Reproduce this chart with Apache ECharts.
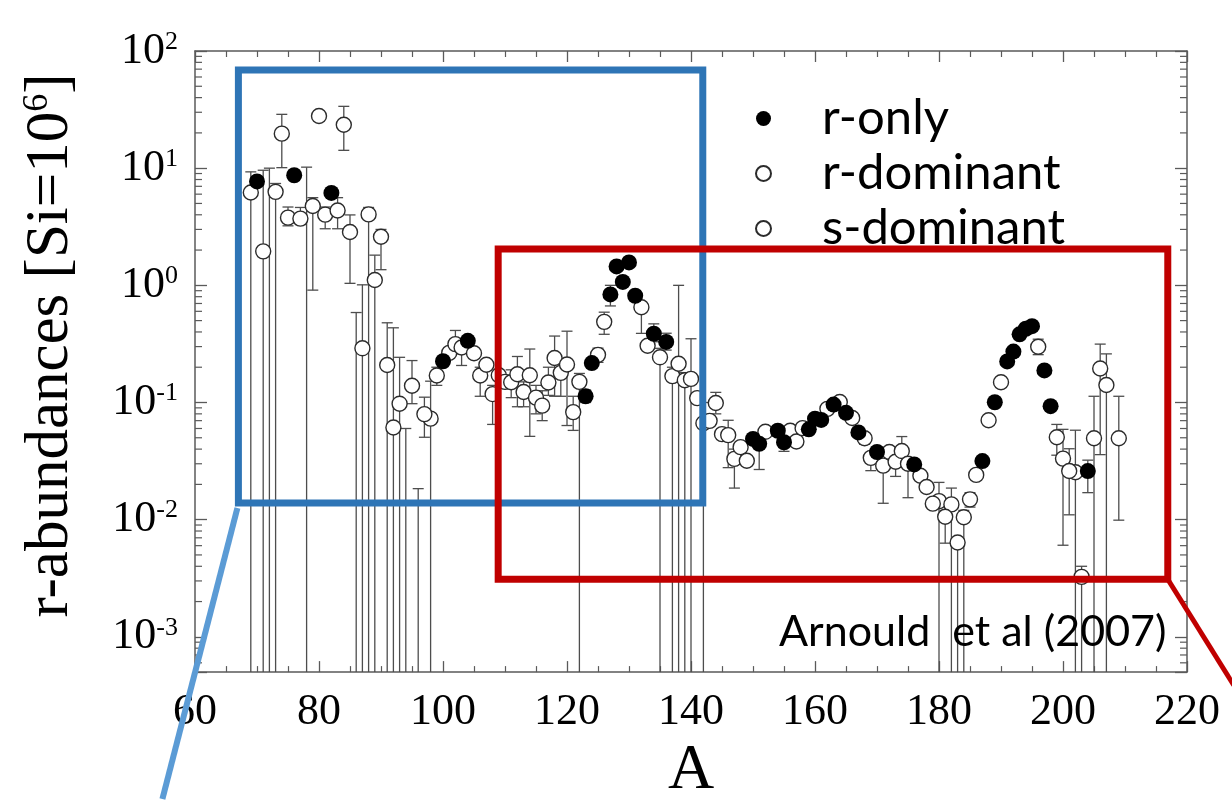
<!DOCTYPE html>
<html>
<head>
<meta charset="utf-8">
<title>r-abundances</title>
<script src="https://cdn.jsdelivr.net/npm/echarts@6/dist/echarts.min.js"></script>
<style>
  html, body { margin: 0; padding: 0; background: #fff; }
  #chart { width: 1232px; height: 808px; }
</style>
</head>
<body>
<div id="chart"></div>
<script>
// Solar-system r-process residual abundances versus mass number A

// r-only nuclides
const rOnlyA = [70, 76, 82, 100, 104, 123, 124, 127, 128, 129, 130, 131, 134, 136,
  150, 151, 154, 155, 159, 160, 161, 163, 165, 167, 170, 176, 187, 189, 191, 192,
  193, 194, 195, 197, 198, 204];
const rOnlyY = [7.7, 8.7, 6.15, 0.225, 0.336, 0.113, 0.217, 0.836, 1.45, 1.07, 1.57, 0.815, 0.386, 0.329,
  0.0489, 0.0444, 0.0574, 0.0458, 0.059, 0.0728, 0.071, 0.096, 0.0817, 0.0555, 0.0378, 0.0296, 0.0316, 0.1005, 0.224, 0.272,
  0.382, 0.426, 0.448, 0.188, 0.093, 0.026];

// r-dominant nuclides
const rDomA = [74, 75, 77, 79, 80, 81, 83, 84, 85, 90, 95, 97, 99, 101, 102, 103, 105, 106, 107, 108,
  109, 110, 111, 112, 113, 114, 115, 116, 117, 118, 119, 120, 121, 125, 126, 132, 133, 141, 143, 144,
  145, 146, 147, 148, 149, 152, 156, 157, 158, 162, 164, 166, 168, 169, 171, 172, 173, 174, 175, 177,
  178, 179, 181, 185, 186, 188, 190, 196, 199, 200, 201, 206, 209];
const rDomY = [19.7, 3.78, 3.71, 4.76, 27.9, 4.01, 4.35, 23.5, 2.85, 2.6, 0.139, 0.0796, 0.17, 0.265, 0.315, 0.295, 0.263, 0.17, 0.21, 0.118,
  0.171, 0.15, 0.149, 0.174, 0.123, 0.171, 0.110, 0.094, 0.148, 0.240, 0.179, 0.211, 0.0828, 0.255, 0.488, 0.65, 0.305, 0.109, 0.0697, 0.099,
  0.0537, 0.0527, 0.033, 0.0416, 0.0318, 0.0562, 0.0574, 0.0465, 0.0604, 0.0883, 0.101, 0.0738, 0.0495, 0.0337, 0.0289, 0.0378, 0.0312, 0.0385, 0.030, 0.0237,
  0.019, 0.0137, 0.0106, 0.0149, 0.0241, 0.0705, 0.149, 0.299, 0.0505, 0.0332, 0.026, 0.195, 0.0495];

// s-dominant nuclides
const sDomA = [69, 71, 73, 87, 88, 89, 91, 92, 93, 98, 122, 135, 137, 138, 139, 140, 142,
  180, 182, 183, 184, 202, 203, 205, 207];
const sDomY = [6.2, 1.95, 6.28, 0.29, 4.03, 1.11, 0.209, 0.0612, 0.0977, 0.0728, 0.150, 0.243, 0.168, 0.214, 0.155, 0.159, 0.0665,
  0.0144, 0.0135, 0.00638, 0.0105, 0.0254, 0.00325, 0.0495, 0.141];

// Uncertainty ranges (lower, upper); 1e-4 lies below the plotted range
const errA = [69, 71, 72, 73, 74, 75, 77, 78, 79, 80, 81, 83, 84, 85, 86, 87, 88, 89, 90, 91,
  92, 93, 94, 95, 96, 97, 98, 99, 102, 103, 106, 108, 111, 112, 113, 114, 115, 116, 117, 118,
  119, 120, 121, 122, 123, 125, 126, 127, 132, 134, 135, 136, 137, 138, 139, 140, 142, 144, 146, 147,
  151, 155, 168, 169, 171, 173, 174, 175, 180, 181, 182, 183, 184, 185, 196, 199, 200, 201, 202, 203,
  204, 205, 206, 207, 209];
const errLo = [1e-4, 1e-4, 1e-4, 1e-4, 10.1, 3.22, 3.3, 1e-4, 0.91, 26, 3.04, 3.04, 14.2, 1.04, 1e-4, 1e-4, 1e-4, 1e-4, 1.36, 1e-4,
  1e-4, 1e-4, 1e-4, 0.0977, 1e-4, 0.0505, 1e-4, 0.14, 0.26, 0.207, 0.113, 0.065, 0.11, 0.092, 0.092, 0.0514, 0.08, 0.07, 0.115, 0.113,
  0.113, 0.0636, 0.0578, 1e-4, 0.1, 0.22, 0.382, 0.667, 0.389, 0.33, 1e-4, 0.28, 1e-4, 1e-4, 1e-4, 1e-4, 1e-4, 0.08, 0.0278, 0.0186,
  0.0268, 0.0383, 0.044, 0.0262, 0.0138, 0.0234, 0.03, 0.0154, 1e-4, 0.0063, 1e-4, 1e-4, 1e-4, 0.0128, 0.256, 0.0355, 0.00605, 0.011, 1e-4, 1e-4,
  0.017, 1e-4, 0.0359, 1e-4, 0.0099];
const errHi = [9.3, 9.6, 10.0, 7.4, 28.8, 4.66, 4.62, 10.2, 5.6, 29.5, 4.66, 5.6, 33.7, 3.99, 0.586, 1.01, 4.62, 1.81, 3.0, 0.479,
  0.434, 0.243, 0.06, 0.228, 0.0184, 0.111, 0.152, 0.2, 0.412, 0.34, 0.2, 0.14, 0.19, 0.247, 0.15, 0.286, 0.14, 0.126, 0.2, 0.369,
  0.22, 0.406, 0.113, 0.177, 0.128, 0.291, 0.59, 1.0, 0.72, 0.469, 0.29, 0.39, 0.2, 1.0, 0.18, 0.35, 0.1, 0.122, 0.0705, 0.04,
  0.05, 0.05, 0.055, 0.036, 0.032, 0.034, 0.0512, 0.033, 0.0208, 0.012, 0.0186, 0.007, 0.012, 0.017, 0.347, 0.065, 0.059, 0.0403, 0.058, 0.004,
  0.0322, 0.113, 0.315, 0.26, 0.113];

// Axis extents and tick labels
const xTicks = [60, 80, 100, 120, 140, 160, 180, 200, 220];
const xMin = 60, xMax = 220, xStep = 20;
const yMin = 5e-4, yMax = 100;

// Highlighted regions (mass number range, abundance range)
const blueBox = { a0: 67.0, a1: 141.9, lo: 0.0139, hi: 68.7 };
const redBox = { a0: 108.9, a1: 216.9, lo: 0.0031, hi: 2.04 };

const SERIF = "'Liberation Serif', 'Times New Roman', serif";
const SANS = "Lato, 'Noto Sans', sans-serif";
const AXIS_COLOR = '#5a5a5a';

const zip = (a, b) => a.map((v, i) => [v, b[i]]);
const errRows = errA.map((a, i) => [a, errLo[i], errHi[i]]);

// log-spaced minor tick values (2..9 in every decade of the axis)
const minorValues = [];
for (let d = -4; d <= 2; d++) {
  for (let k = 2; k <= 9; k++) {
    const v = k * Math.pow(10, d);
    if (v > yMin && v < yMax) minorValues.push([xMin, v]);
  }
}

const chart = echarts.init(document.getElementById('chart'), null, { renderer: 'canvas' });

const openStyle = { color: '#fff', borderColor: '#2b2b2b', borderWidth: 1.4, opacity: 1 };

const yLabel = {
  margin: 17,
  formatter: function (v) {
    const l = Math.log10(v);
    const e = Math.round(l);
    if (Math.abs(l - e) > 1e-6) return '';
    return '{b|10}{s|' + e + '}';
  },
  rich: {
    b: { fontSize: 44, fontFamily: SERIF, color: '#000', lineHeight: 44 },
    s: { fontSize: 26, fontFamily: SERIF, color: '#000', verticalAlign: 'top', lineHeight: 26 }
  }
};

chart.setOption({
  animation: false,
  backgroundColor: '#fff',
  grid: { left: 195, right: 45, top: 51, bottom: 122, containLabel: false },
  legend: {
    data: ['r-only', 'r-dominant', 's-dominant'],
    orient: 'vertical',
    left: 755,
    top: 94,
    padding: 0,
    itemWidth: 15,
    itemHeight: 15,
    itemGap: 6,
    icon: 'circle',
    formatter: function (n) { return '{t|' + n + '}'; },
    textStyle: {
      lineHeight: 44,
      rich: { t: { fontSize: 49, fontFamily: SANS, color: '#000', lineHeight: 44, padding: [0, 0, 0, 46] } }
    },
    selectedMode: false
  },
  xAxis: [{
    type: 'value', min: xMin, max: xMax, interval: xStep,
    name: 'A', nameLocation: 'middle', nameGap: 58,
    nameTextStyle: { fontSize: 64, fontFamily: SERIF, color: '#000' },
    axisLine: { show: true, lineStyle: { color: AXIS_COLOR, width: 1.5 } },
    axisTick: { show: true, inside: true, length: 11, lineStyle: { color: AXIS_COLOR, width: 1.3 } },
    minorTick: { show: true, splitNumber: 4, length: 6, lineStyle: { color: AXIS_COLOR, width: 1.2 } },
    splitLine: { show: false },
    axisLabel: {
      margin: 18, fontSize: 44, fontFamily: SERIF, color: '#000',
      formatter: function (v) { return xTicks.indexOf(v) >= 0 ? String(v) : ''; }
    }
  }, {
    type: 'value', min: xMin, max: xMax, interval: xStep, position: 'top',
    axisLine: { show: true, lineStyle: { color: AXIS_COLOR, width: 1.5 } },
    axisTick: { show: true, inside: true, length: 11, lineStyle: { color: AXIS_COLOR, width: 1.3 } },
    minorTick: { show: true, splitNumber: 4, length: 6, lineStyle: { color: AXIS_COLOR, width: 1.2 } },
    splitLine: { show: false },
    axisLabel: { show: false }
  }],
  yAxis: [{
    type: 'log', logBase: 10, min: yMin, max: yMax,
    name: 'r-abundances [Si=10{sup|6}]',
    nameLocation: 'middle', nameRotate: 90, nameGap: 114,
    nameTextStyle: {
      fontSize: 61, fontFamily: SERIF, color: '#000', padding: [0, 0, 0, 32],
      rich: { sup: { fontSize: 36, fontFamily: SERIF, color: '#000', verticalAlign: 'top' } }
    },
    axisLine: { show: true, lineStyle: { color: AXIS_COLOR, width: 1.5 } },
    axisTick: { show: true, inside: true, length: 12, lineStyle: { color: AXIS_COLOR, width: 1.3 } },
    splitLine: { show: false },
    axisLabel: yLabel
  }, {
    type: 'log', logBase: 10, min: yMin, max: yMax, position: 'right',
    axisLine: { show: true, lineStyle: { color: AXIS_COLOR, width: 1.5 } },
    axisTick: { show: true, inside: true, length: 12, lineStyle: { color: AXIS_COLOR, width: 1.3 } },
    splitLine: { show: false },
    axisLabel: { show: false }
  }],
  series: [
    {
      // minor ticks of the logarithmic axes, on the left and right frame edges
      type: 'custom', name: 'minor', silent: true, z: 1,
      data: minorValues,
      renderItem: function (params, api) {
        const cs = params.coordSys;
        const p = api.coord([api.value(0), api.value(1)]);
        const st = { stroke: AXIS_COLOR, lineWidth: 1.2 };
        return {
          type: 'group',
          children: [
            { type: 'line', shape: { x1: cs.x, y1: p[1], x2: cs.x + 7, y2: p[1] }, style: st },
            { type: 'line', shape: { x1: cs.x + cs.width - 7, y1: p[1], x2: cs.x + cs.width, y2: p[1] }, style: st }
          ]
        };
      }
    },
    {
      // uncertainty bars with end caps, clipped to the plotting area
      type: 'custom', name: 'errors', silent: true, z: 2,
      data: errRows,
      renderItem: function (params, api) {
        const cs = params.coordSys;
        const a = api.value(0);
        const top = api.coord([a, api.value(2)]);
        const bot = api.coord([a, api.value(1)]);
        const x = top[0];
        const yBottom = cs.y + cs.height;
        const y1 = Math.max(top[1], cs.y);
        const y2 = Math.min(bot[1], yBottom);
        const st = { stroke: '#4d4d4d', lineWidth: 1.3 };
        const cap = 5.5;
        const ch = [{ type: 'line', shape: { x1: x, y1: y1, x2: x, y2: y2 }, style: st }];
        if (top[1] >= cs.y) ch.push({ type: 'line', shape: { x1: x - cap, y1: top[1], x2: x + cap, y2: top[1] }, style: st });
        if (bot[1] <= yBottom) ch.push({ type: 'line', shape: { x1: x - cap, y1: bot[1], x2: x + cap, y2: bot[1] }, style: st });
        return { type: 'group', children: ch };
      }
    },
    {
      name: 's-dominant', type: 'scatter', z: 3, symbol: 'circle', symbolSize: 15,
      itemStyle: openStyle, data: zip(sDomA, sDomY)
    },
    {
      name: 'r-dominant', type: 'scatter', z: 3, symbol: 'circle', symbolSize: 15,
      itemStyle: openStyle, data: zip(rDomA, rDomY)
    },
    {
      name: 'r-only', type: 'scatter', z: 4, symbol: 'circle', symbolSize: 16,
      itemStyle: { color: '#000', opacity: 1 }, data: zip(rOnlyA, rOnlyY)
    }
  ]
});

// Region outlines, connector lines and citation, placed through the axis scales
function px(a, v) { return chart.convertToPixel({ gridIndex: 0 }, [a, v]); }
const b0 = px(blueBox.a0, blueBox.hi), b1 = px(blueBox.a1, blueBox.lo);
const r0 = px(redBox.a0, redBox.hi), r1 = px(redBox.a1, redBox.lo);

chart.setOption({
  graphic: [
    {
      type: 'rect', z: 100, silent: true,
      shape: { x: b0[0], y: b0[1], width: b1[0] - b0[0], height: b1[1] - b0[1] },
      style: { fill: null, stroke: '#2e75b6', lineWidth: 7 }
    },
    {
      type: 'rect', z: 101, silent: true,
      shape: { x: r0[0], y: r0[1], width: r1[0] - r0[0], height: r1[1] - r0[1] },
      style: { fill: null, stroke: '#c00000', lineWidth: 7 }
    },
    {
      type: 'line', z: 100, silent: true,
      shape: { x1: b0[0] - 1, y1: b1[1] + 5, x2: b0[0] - 76, y2: b1[1] + 296 },
      style: { stroke: '#5b9bd5', lineWidth: 6 }
    },
    {
      type: 'line', z: 101, silent: true,
      shape: { x1: r1[0], y1: r1[1], x2: r1[0] + 66, y2: r1[1] + 106 },
      style: { stroke: '#c00000', lineWidth: 5 }
    },
    {
      type: 'text', z: 102, silent: true, x: 779, y: 632,
      style: {
        text: 'Arnould  et al (2007)', fontSize: 43, fontFamily: SANS, fill: '#000',
        align: 'left', verticalAlign: 'middle'
      }
    }
  ]
});
</script>
</body>
</html>
